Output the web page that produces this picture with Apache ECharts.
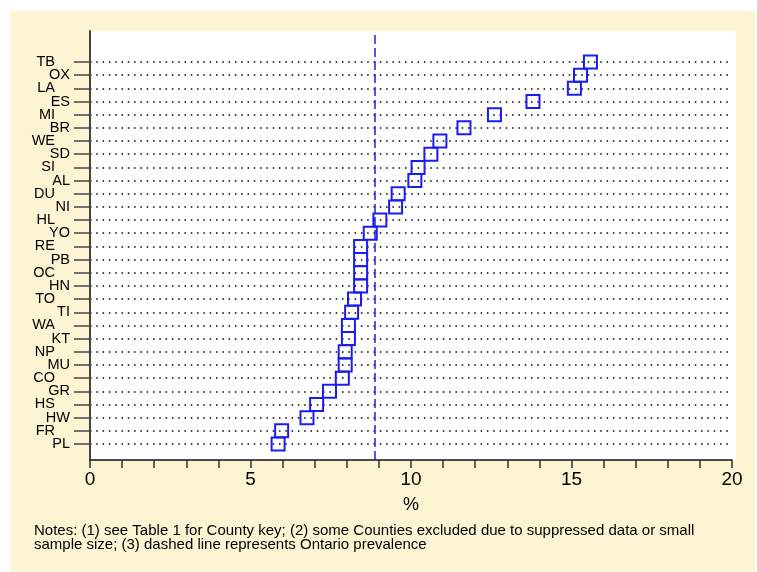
<!DOCTYPE html>
<html>
<head>
<meta charset="utf-8">
<script src="https://cdn.jsdelivr.net/npm/echarts@6/dist/echarts.min.js"></script>
<style>
  html, body { margin: 0; padding: 0; background: #ffffff; }
  #main { width: 757px; height: 572px; }
</style>
</head>
<body>
<div id="main"></div>
<script>
// counties, bottom to top
const counties = ['PL', 'FR', 'HW', 'HS', 'GR', 'CO', 'MU', 'NP', 'KT', 'WA',
  'TI', 'TO', 'HN', 'OC', 'PB', 'RE', 'YO', 'HL', 'NI', 'DU',
  'AL', 'SI', 'SD', 'WE', 'BR', 'MI', 'ES', 'LA', 'OX', 'TB']
const prevalence = [5.86, 5.97, 6.76, 7.06, 7.46, 7.86, 7.95, 7.95, 8.05, 8.05,
  8.15, 8.24, 8.43, 8.43, 8.43, 8.43, 8.73, 9.03, 9.52, 9.6,
  10.12, 10.22, 10.62, 10.9, 11.65, 12.6, 13.8, 15.09, 15.28, 15.59]
const ontario = 8.86
const xTicks = [0, 5, 10, 15, 20]
const notes = [
  'Notes: (1) see Table 1 for County key; (2) some Counties excluded due to suppressed data or small',
  'sample size; (3) dashed line represents Ontario prevalence'
]

const blue = '#1c1cf0'
const font = 'Liberation Sans, Arial, sans-serif'

let chart = echarts.init(document.getElementById('main'))

let points = counties.map((c, i) => [prevalence[i], c])

let option = {
  animation: false,
  textStyle: { fontFamily: font },
  graphic: [
    { type: 'rect', z: -10, shape: { x: 10, y: 11, width: 746, height: 561 }, style: { fill: '#fdf4d3' } },
    { type: 'rect', z: -9, shape: { x: 89, y: 31, width: 647, height: 429 }, style: { fill: '#ffffff' } },
    {
      type: 'text', left: 34, top: 523,
      style: { text: notes.join('\n'), fill: '#000', font: '15px ' + font, lineHeight: 14 }
    }
  ],
  grid: [
    { left: 90, right: 25, top: 31, bottom: 112 },
    { left: 90, right: 25, top: 62, bottom: 128 }
  ],
  xAxis: [
    {
      gridIndex: 0, type: 'value', min: 0, max: 20, interval: 1,
      name: '%', nameLocation: 'middle', nameGap: 36,
      nameTextStyle: { color: '#000', fontSize: 18, fontFamily: font },
      axisLine: { lineStyle: { color: '#111', width: 1.5 } },
      axisTick: { length: 8, lineStyle: { color: '#333', width: 1.5 } },
      axisLabel: {
        color: '#000', fontSize: 19, margin: 10,
        formatter: v => xTicks.includes(v) ? String(v) : ''
      },
      splitLine: { show: false }
    },
    {
      gridIndex: 1, type: 'value', min: 0, max: 20, show: false
    }
  ],
  yAxis: [
    {
      gridIndex: 0, type: 'value', min: 0, max: 1,
      axisLine: { show: true, lineStyle: { color: '#444', width: 2 } },
      axisTick: { show: false }, axisLabel: { show: false }, splitLine: { show: false }
    },
    {
      gridIndex: 1, type: 'category', data: counties, boundaryGap: false,
      axisLine: { show: false },
      axisTick: { show: true, length: 16, lineStyle: { color: '#444', width: 1.5 } },
      axisLabel: {
        interval: 0, margin: 20, color: '#000', fontSize: 14.5,
        formatter: (v, i) => i % 2 === 1 ? '{l|' + v + '}' : '{r|' + v + '}',
        rich: {
          l: { fontSize: 14.5, color: '#000', padding: [0, 15, 0, 0] },
          r: { fontSize: 14.5, color: '#000' }
        }
      },
      splitLine: { show: true, lineStyle: { color: '#000', width: 1.5, type: [1.5, 4.8] } }
    }
  ],
  series: [
    {
      type: 'scatter', xAxisIndex: 0, yAxisIndex: 0, data: [],
      markLine: {
        silent: true, symbol: 'none', label: { show: false },
        lineStyle: { color: blue, width: 1.5, type: [9, 4] },
        data: [{ xAxis: ontario }]
      }
    },
    {
      type: 'scatter', xAxisIndex: 1, yAxisIndex: 1,
      symbol: 'rect', symbolSize: 13,
      itemStyle: { color: 'rgba(0,0,0,0)', borderColor: blue, borderWidth: 2, opacity: 1 },
      data: points
    }
  ]
}

chart.setOption(option)
</script>
</body>
</html>
